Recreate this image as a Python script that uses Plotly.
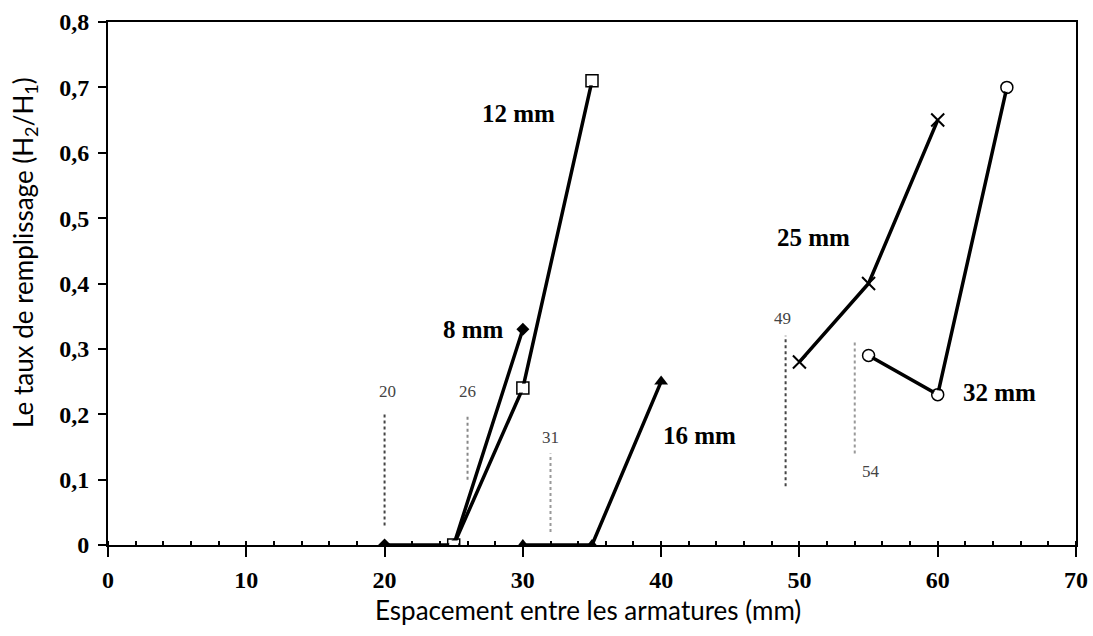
import plotly.graph_objects as go

# Filling ratio H2/H1 against bar spacing, one curve per bar diameter
spacing_8 = [20, 25, 30]
ratio_8 = [0.0, 0.0, 0.33]

spacing_12 = [25, 30, 35]
ratio_12 = [0.0, 0.24, 0.71]

spacing_16 = [30, 35, 40]
ratio_16 = [0.0, 0.0, 0.25]

spacing_25 = [50, 55, 60]
ratio_25 = [0.28, 0.40, 0.65]

spacing_32 = [55, 60, 65]
ratio_32 = [0.29, 0.23, 0.70]

# Critical spacings marked with dotted lines
crit_labels = ["20", "26", "31", "49", "54"]
crit_x = [20, 26, 32, 49, 54]
crit_y0 = [0.03, 0.10, 0.02, 0.09, 0.14]
crit_y1 = [0.20, 0.20, 0.14, 0.32, 0.31]
crit_label_x = [20.2, 26, 32, 48.8, 55.2]
crit_label_y = [0.235, 0.235, 0.165, 0.347, 0.112]
crit_colors = ["#444444", "#888888", "#999999", "#444444", "#999999"]

series_names = ["8 mm", "12 mm", "16 mm", "25 mm", "32 mm"]
series_label_x = [26.4, 29.7, 42.8, 51.0, 64.5]
series_label_y = [0.33, 0.66, 0.168, 0.47, 0.234]

x_ticks = [0, 10, 20, 30, 40, 50, 60, 70]
y_ticks = [0, 0.1, 0.2, 0.3, 0.4, 0.5, 0.6, 0.7, 0.8]
y_tick_text = ["0", "0,1", "0,2", "0,3", "0,4", "0,5", "0,6", "0,7", "0,8"]

fig = go.Figure()

# dotted reference lines
for x, y0, y1, col in zip(crit_x, crit_y0, crit_y1, crit_colors):
    fig.add_trace(go.Scatter(
        x=[x, x], y=[y0, y1], mode="lines",
        line=dict(color=col, width=2, dash="dot"),
        showlegend=False, hoverinfo="skip"))

line_style = dict(color="black", width=3.5)
series = [
    (spacing_8, ratio_8, dict(symbol="diamond", size=10, color="black")),
    (spacing_12, ratio_12, dict(symbol="square-open", size=12, color="black",
                                line=dict(width=1.5, color="black"))),
    (spacing_16, ratio_16, dict(symbol="triangle-up", size=12, color="black")),
    (spacing_25, ratio_25, dict(symbol="x-thin", size=13, color="black",
                                line=dict(width=2, color="black"))),
    (spacing_32, ratio_32, dict(symbol="circle-open", size=12, color="black",
                                line=dict(width=1.5, color="black"))),
]
for (xs, ys, mk), name in zip(series, series_names):
    fig.add_trace(go.Scatter(
        x=xs, y=ys, mode="lines+markers", name=name,
        line=line_style, marker=mk, showlegend=False))
    # white fill behind the open markers
    if "open" in mk["symbol"]:
        fig.add_trace(go.Scatter(
            x=xs, y=ys, mode="markers",
            marker=dict(symbol=mk["symbol"].replace("-open", ""), size=mk["size"] - 3,
                        color="white"),
            showlegend=False, hoverinfo="skip"))

serif_bold = dict(family="Liberation Serif, Times New Roman, serif", size=25, color="black")

for name, x, y in zip(series_names, series_label_x, series_label_y):
    fig.add_annotation(x=x, y=y, text="<b>%s</b>" % name, showarrow=False,
                       font=serif_bold)

for lab, x, y in zip(crit_labels, crit_label_x, crit_label_y):
    fig.add_annotation(x=x, y=y, text=lab, showarrow=False,
                       font=dict(family="Liberation Serif, serif", size=17, color="#444444"))

title_font = dict(family="Lato, Open Sans, sans-serif", size=26, color="black")
fig.add_annotation(xref="paper", yref="paper", x=0.496, y=-0.125,
                   xanchor="center", yanchor="middle",
                   text="Espacement entre les armatures (mm)", showarrow=False,
                   font=title_font)
fig.add_annotation(xref="paper", yref="paper", x=-0.087, y=0.56,
                   xanchor="center", yanchor="middle", textangle=-90,
                   text="Le taux de remplissage (H<sub>2</sub>/H<sub>1</sub>)",
                   showarrow=False, font=title_font)

tick_font = dict(family="Liberation Serif, serif", size=24, color="black")
fig.update_xaxes(
    range=[0, 70], tickvals=x_ticks, ticktext=["<b>%d</b>" % v for v in x_ticks],
    showgrid=False, zeroline=False, showline=True, linecolor="black", linewidth=2,
    mirror=True, ticks="outside", ticklen=10, tickwidth=2, tickcolor="black",
    minor=dict(dtick=2, ticks="inside", ticklen=4, tickwidth=1.5, tickcolor="black"),
    tickfont=tick_font, ticklabelstandoff=2, automargin=False)
fig.update_yaxes(
    range=[0, 0.8], tickvals=y_ticks, ticktext=["<b>%s</b>" % t for t in y_tick_text],
    showgrid=False, zeroline=False, showline=True, linecolor="black", linewidth=2,
    mirror=True, ticks="outside", ticklen=8, tickwidth=2, tickcolor="black",
    tickfont=tick_font, ticklabelstandoff=4, automargin=False)

fig.update_layout(
    width=1093, height=636,
    margin=dict(l=108, r=17, t=22, b=91),
    plot_bgcolor="white", paper_bgcolor="white",
)

fig.write_html("out.html")
